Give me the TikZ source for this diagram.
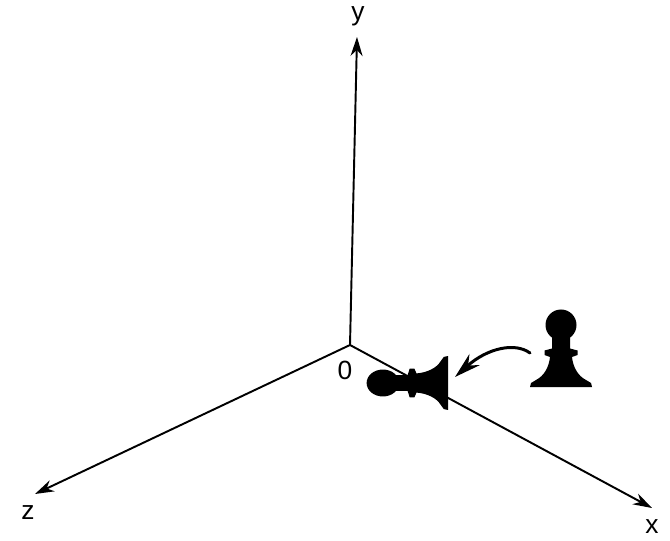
\documentclass[tikz,border=0pt]{standalone}
\usepackage{fontspec}
\setmainfont{Liberation Sans}
\usetikzlibrary{arrows.meta}

% chess pawn, base centred on the pic origin, pointing up
\tikzset{
    axis/.style={line width=1.1pt,-{Stealth[length=0.38cm,width=0.24cm]}},
    lbl/.style={font=\fontsize{15}{17}\selectfont,inner sep=0pt},
    pawn/.pic={
        \fill (-0.62,0)--(0.62,0)--(0.6,0.08)--(0.5,0.14)
            ..controls(0.34,0.22)and(0.24,0.4)..(0.22,0.6)
            --(0.33,0.64)--(0.33,0.73)--(0.18,0.77)--(0.18,1)
            --(-0.18,1)--(-0.18,0.77)--(-0.33,0.73)--(-0.33,0.64)--(-0.22,0.6)
            ..controls(-0.24,0.4)and(-0.34,0.22)..(-0.5,0.14)
            --(-0.6,0.08)--cycle;
        \fill (0,1.24) circle (0.31);
    }
}

\begin{document}
\begin{tikzpicture}[line join=round,line cap=round]
    \useasboundingbox (-7,-3.9) rectangle (6.4,6.9);
    \coordinate (O) at (0,0);
    \coordinate (yend) at (0.14,6.16);
    \coordinate (zend) at (-6.3,-2.98);
    \coordinate (xend) at (6.04,-3.26);
    \draw[axis] (O)--(yend);
    \draw[axis] (O)--(zend);
    \draw[axis] (O)--(xend);
    \node[lbl] (ylab) at (0.16,6.58) {y};
    \node[lbl] (zlab) at (-6.44,-3.36) {z};
    \node[lbl] (xlab) at (6.04,-3.64) {x};
    \node[lbl] (olab) at (-0.1,-0.5) {0};
    % pawn lying on the x axis, and the upright one
    \pic[rotate=90,xscale=0.87,yscale=1.05] at (1.96,-0.76) {pawn};
    \pic at (4.22,-0.84) {pawn};
    % the turn
    \coordinate (from) at (3.6,-0.16);
    \coordinate (to) at (2.1,-0.64);
    \draw[line width=1.7pt,-{Stealth[length=0.52cm,width=0.3cm]}]
        (from)..controls(3.3,0.06)and(2.75,-0.06)..(to);
\end{tikzpicture}
\end{document}
